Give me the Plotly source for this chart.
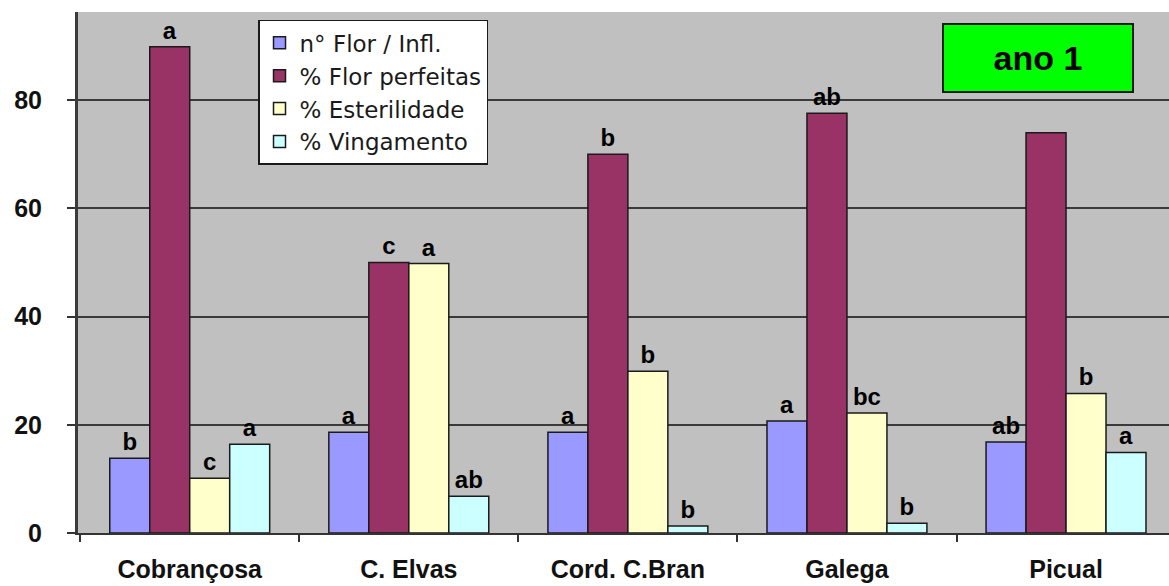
import plotly.graph_objects as go

# Cultivars and measured traits (year 1)
cultivars = ["Cobrançosa", "C. Elvas", "Cord. C.Bran", "Galega", "Picual"]

flor_infl = [13.8, 18.6, 18.6, 20.7, 16.8]        # n° Flor / Infl.
flor_perfeitas = [89.9, 50.0, 70.0, 77.6, 74.0]   # % Flor perfeitas
esterilidade = [10.1, 49.8, 29.9, 22.2, 25.8]     # % Esterilidade
vingamento = [16.4, 6.8, 1.3, 1.8, 14.9]          # % Vingamento

# Significance letters for each series
let_flor_infl = ["b", "a", "a", "a", "ab"]
let_flor_perfeitas = ["a", "c", "b", "ab", ""]
let_esterilidade = ["c", "a", "b", "bc", "b"]
let_vingamento = ["a", "ab", "b", "b", "a"]

series = [
    ("n° Flor / Infl.", flor_infl, let_flor_infl, "#9999ff"),
    ("% Flor perfeitas", flor_perfeitas, let_flor_perfeitas, "#993366"),
    ("% Esterilidade", esterilidade, let_esterilidade, "#ffffcc"),
    ("% Vingamento", vingamento, let_vingamento, "#ccffff"),
]

fig = go.Figure()
for name, vals, letters, color in series:
    fig.add_trace(go.Bar(
        x=cultivars, y=vals, name=name,
        text=letters, textposition="outside", texttemplate="%{text}",
        textfont=dict(family="Liberation Sans, Arial", size=24, color="#000000",
                      weight="bold"),
        cliponaxis=False,
        marker=dict(color=color, line=dict(color="#1a1a1a", width=1.5)),
    ))

fig.add_annotation(
    xref="paper", yref="paper", x=0.88, y=0.912,
    xanchor="center", yanchor="middle",
    text="<b>ano 1</b>", showarrow=False,
    font=dict(family="Liberation Sans, Arial", size=34, color="#000000"),
    bgcolor="#00ff00", bordercolor="#1a1a1a", borderwidth=2,
    width=186, height=64, align="center", valign="middle",
)

fig.update_layout(
    width=1169, height=586,
    margin=dict(l=78, r=0, t=12, b=53, autoexpand=False),
    paper_bgcolor="#ffffff", plot_bgcolor="#c0c0c0",
    barmode="group", bargap=0.27, bargroupgap=0,
    font=dict(family="Liberation Sans, Arial", color="#000000"),
    legend=dict(
        x=0.165, y=0.985, xanchor="left", yanchor="top",
        bgcolor="#ffffff", bordercolor="#1a1a1a", borderwidth=1.5,
        font=dict(family="DejaVu Sans", size=23, color="#1a1a1a"),
        tracegroupgap=0,
    ),
    showlegend=True,
)

fig.update_xaxes(
    range=[-0.51, 4.47], automargin=False,
    showline=True, linecolor="#333333", linewidth=2,
    ticks="outside", tickson="boundaries", ticklen=7, tickcolor="#333333", tickwidth=2,
    tickfont=dict(family="Liberation Sans, Arial", size=25, color="#111111", weight="bold"),
    ticklabelstandoff=13,
    showgrid=False,
)
fig.update_yaxes(
    range=[0, 96.3], automargin=False,
    tickvals=[0, 20, 40, 60, 80],
    showline=True, linecolor="#3a3a3a", linewidth=3,
    ticks="outside", ticklen=8, tickcolor="#333333", tickwidth=2,
    tickfont=dict(family="Liberation Sans, Arial", size=25, color="#111111", weight="bold"),
    ticklabelstandoff=20,
    showgrid=True, gridcolor="#3a3a3a", gridwidth=2,
    zeroline=False,
)

fig.write_html("out.html")
